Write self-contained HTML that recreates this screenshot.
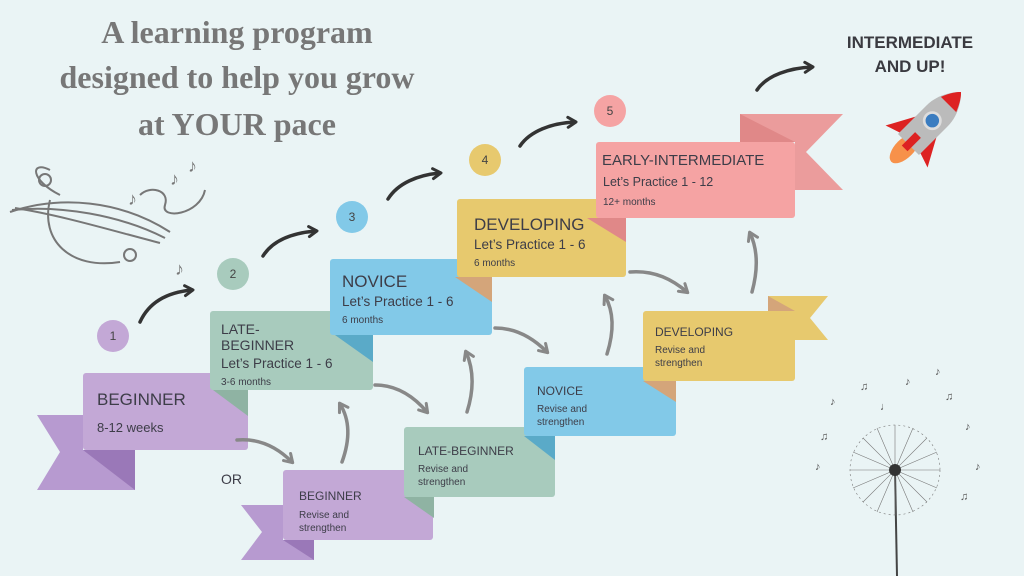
<!DOCTYPE html>
<html><head><meta charset="utf-8"><style>
body{margin:0;background:#eaf4f5;}
svg{display:block;font-family:"Liberation Sans",sans-serif;}
</style></head><body>
<svg width="1024" height="576" viewBox="0 0 1024 576" xmlns="http://www.w3.org/2000/svg">
<defs>
<marker id="ad" markerWidth="14" markerHeight="14" refX="9" refY="7" orient="auto" markerUnits="userSpaceOnUse"><path d="M2,2 L10,7 L2,12" fill="none" stroke="#333" stroke-width="3" stroke-linecap="round" stroke-linejoin="round"/></marker>
<marker id="ag" markerWidth="14" markerHeight="14" refX="9" refY="7" orient="auto" markerUnits="userSpaceOnUse"><path d="M2,2 L10,7 L2,12" fill="none" stroke="#888" stroke-width="3" stroke-linecap="round" stroke-linejoin="round"/></marker>
</defs>
<rect width="1024" height="576" fill="#eaf4f5"/>
<g font-family="Liberation Serif,serif" font-weight="bold" font-size="32" fill="#777" text-anchor="middle">
<text x="237" y="43">A learning program</text>
<text x="237" y="88">designed to help you grow</text>
<text x="237" y="135">at YOUR pace</text>
</g>
<!-- music swirl -->
<g fill="none" stroke="#777" stroke-width="2">
<path d="M10,212 C60,195 120,200 170,232"/><path d="M12,210 C60,205 120,215 165,238"/><path d="M15,208 C60,215 110,230 160,243"/>
<path d="M50,200 C40,240 70,270 120,262"/><path d="M60,195 C30,180 30,160 50,170"/>
<path d="M140,195 C150,185 170,190 165,205 C160,220 200,215 205,190"/>
<circle cx="130" cy="255" r="6"/><circle cx="45" cy="180" r="6"/>
</g>
<g fill="#777" font-size="18"><text x="170" y="185">♪</text><text x="188" y="172">♪</text><text x="128" y="205">♪</text><text x="175" y="275">♪</text></g>
<!-- ribbons main -->
<polygon points="37,415 83,415 83,490 135,490 135,450 83,450 83,490 37,490 60,452" fill="#b79ad0"/>
<polygon points="83,450 135,450 135,490" fill="#9a78b8"/>
<rect x="83" y="373" width="165" height="77" rx="3" fill="#c3a8d6"/>
<polygon points="213,390 248,390 248,416" fill="#8fb3a3"/>
<rect x="210" y="311" width="163" height="79" rx="3" fill="#a8cbbd"/>
<polygon points="335,335 373,335 373,362" fill="#5aaac8"/>
<rect x="330" y="259" width="162" height="76" rx="3" fill="#82c9e8"/>
<polygon points="455,277 492,277 492,302" fill="#d4a57a"/>
<rect x="457" y="199" width="169" height="78" rx="3" fill="#e7c96e"/>
<polygon points="740,114 843,114 806,152 843,190 795,190 795,142 740,142" fill="#eb9c9c"/>
<polygon points="740,114 795,142 740,142" fill="#e08888"/>
<polygon points="587,218 626,218 626,242" fill="#e08888"/>
<rect x="596" y="142" width="199" height="76" rx="3" fill="#f5a3a3"/>
<!-- second row -->
<polygon points="241,505 283,505 283,560 314,560 314,540 283,540 283,560 241,560 262,532" fill="#b79ad0"/>
<polygon points="283,540 314,540 314,560" fill="#9a78b8"/>
<rect x="283" y="470" width="150" height="70" rx="3" fill="#c3a8d6"/>
<polygon points="404,497 434,497 434,518" fill="#8fb3a3"/>
<rect x="404" y="427" width="151" height="70" rx="3" fill="#a8cbbd"/>
<polygon points="524,436 555,436 555,460" fill="#5aaac8"/>
<rect x="524" y="367" width="152" height="69" rx="3" fill="#82c9e8"/>
<polygon points="768,296 828,296 810,318 828,340 768,340" fill="#e7c96e"/>
<polygon points="768,296 795,311 768,311" fill="#d4a57a"/>
<polygon points="643,381 676,381 676,402" fill="#d4a57a"/>
<rect x="643" y="311" width="152" height="70" rx="3" fill="#e7c96e"/>
<!-- text -->
<g fill="#3d3d48">
<text x="97" y="405" font-size="17">BEGINNER</text><text x="97" y="432" font-size="13">8-12 weeks</text>
<text x="221" y="334" font-size="14">LATE-</text><text x="221" y="350" font-size="14">BEGINNER</text>
<text x="221" y="368" font-size="13.5">Let’s Practice 1 - 6</text><text x="221" y="385" font-size="10">3-6 months</text>
<text x="342" y="287" font-size="17">NOVICE</text><text x="342" y="306" font-size="13.5">Let’s Practice 1 - 6</text><text x="342" y="323" font-size="10">6 months</text>
<text x="474" y="230" font-size="17">DEVELOPING</text><text x="474" y="249" font-size="13.5">Let’s Practice 1 - 6</text><text x="474" y="266" font-size="10">6 months</text>
<text x="602" y="165" font-size="15">EARLY-INTERMEDIATE</text><text x="603" y="186" font-size="12.5">Let’s Practice 1 - 12</text><text x="603" y="205" font-size="10">12+ months</text>
<text x="299" y="500" font-size="12">BEGINNER</text><text x="299" y="518" font-size="10">Revise and</text><text x="299" y="531" font-size="10">strengthen</text>
<text x="418" y="455" font-size="12">LATE-BEGINNER</text><text x="418" y="472" font-size="10">Revise and</text><text x="418" y="485" font-size="10">strengthen</text>
<text x="537" y="395" font-size="12">NOVICE</text><text x="537" y="412" font-size="10">Revise and</text><text x="537" y="425" font-size="10">strengthen</text>
<text x="655" y="336" font-size="12">DEVELOPING</text><text x="655" y="353" font-size="10">Revise and</text><text x="655" y="366" font-size="10">strengthen</text>
<text x="221" y="484" font-size="14">OR</text>
<g font-weight="bold" font-size="17" text-anchor="middle" fill="#3a3a40"><text x="910" y="48">INTERMEDIATE</text><text x="910" y="72">AND UP!</text></g>
</g>
<!-- circles -->
<g font-size="12" fill="#444" text-anchor="middle">
<circle cx="113" cy="336" r="16" fill="#c3a8d6"/><text x="113" y="340">1</text>
<circle cx="233" cy="274" r="16" fill="#a8cbbd"/><text x="233" y="278">2</text>
<circle cx="352" cy="217" r="16" fill="#82c9e8"/><text x="352" y="221">3</text>
<circle cx="485" cy="160" r="16" fill="#e7c96e"/><text x="485" y="164">4</text>
<circle cx="610" cy="111" r="16" fill="#f5a3a3"/><text x="610" y="115">5</text>
</g>
<!-- arrows -->
<g fill="none" stroke="#333" stroke-width="3.5" stroke-linecap="round">
<path d="M140,322 C150,300 170,292 192,290" marker-end="url(#ad)"/>
<path d="M263,256 C273,240 292,233 316,231" marker-end="url(#ad)"/>
<path d="M388,199 C398,183 418,175 440,173" marker-end="url(#ad)"/>
<path d="M520,146 C530,131 552,123 575,122" marker-end="url(#ad)"/>
<path d="M757,90 C767,75 790,68 812,67" marker-end="url(#ad)"/>
</g>
<g fill="none" stroke="#888" stroke-width="3.5" stroke-linecap="round">
<path d="M237,440 C260,438 278,448 292,462" marker-end="url(#ag)"/>
<path d="M342,462 C350,440 350,420 340,404" marker-end="url(#ag)"/>
<path d="M375,385 C398,385 415,398 427,412" marker-end="url(#ag)"/>
<path d="M467,412 C474,390 474,370 466,352" marker-end="url(#ag)"/>
<path d="M495,328 C518,328 535,340 547,352" marker-end="url(#ag)"/>
<path d="M607,354 C614,332 614,312 605,296" marker-end="url(#ag)"/>
<path d="M630,272 C655,270 673,280 687,292" marker-end="url(#ag)"/>
<path d="M752,292 C758,270 758,250 750,233" marker-end="url(#ag)"/>
</g>
<!-- rocket -->
<g transform="translate(918,135) rotate(45) scale(1.35)">
<path d="M-10,-10 L-22,12 L-10,8 Z M10,-10 L22,12 L10,8 Z" fill="#d22"/>
<ellipse cx="0" cy="14" rx="7" ry="14" fill="#f7914a"/>
<path d="M-11,10 L-11,-20 C-11,-35 0,-45 0,-45 C0,-45 11,-35 11,-20 L11,10 Z" fill="#bbb"/>
<path d="M-8,-32 C-4,-42 0,-45 0,-45 C0,-45 4,-42 8,-32 Z" fill="#d22"/>
<rect x="-3" y="0" width="6" height="14" fill="#d22"/>
<circle cx="0" cy="-15" r="6" fill="#3a7cc0" stroke="#ddd" stroke-width="2"/>
</g>
<!-- dandelion -->
<line x1="895" y1="470" x2="897" y2="576" stroke="#444" stroke-width="2"/>
<g stroke="#777" stroke-width="0.6">
<circle cx="895" cy="470" r="45" fill="none" stroke-dasharray="2 3"/>
<path d="M850,470 L940,470 M895,425 L895,515 M863,438 L927,502 M863,502 L927,438 M853,452 L937,488 M853,488 L937,452 M877,428 L913,512 M913,428 L877,512"/>
</g>
<circle cx="895" cy="470" r="6" fill="#333"/>
<g fill="#555" font-size="11"><text x="830" y="405">♪</text><text x="860" y="390">♫</text><text x="905" y="385">♪</text><text x="945" y="400">♫</text><text x="965" y="430">♪</text><text x="820" y="440">♫</text><text x="975" y="470">♪</text><text x="815" y="470">♪</text><text x="960" y="500">♫</text><text x="880" y="410">♩</text><text x="935" y="375">♪</text></g>
</svg>
</body></html>
